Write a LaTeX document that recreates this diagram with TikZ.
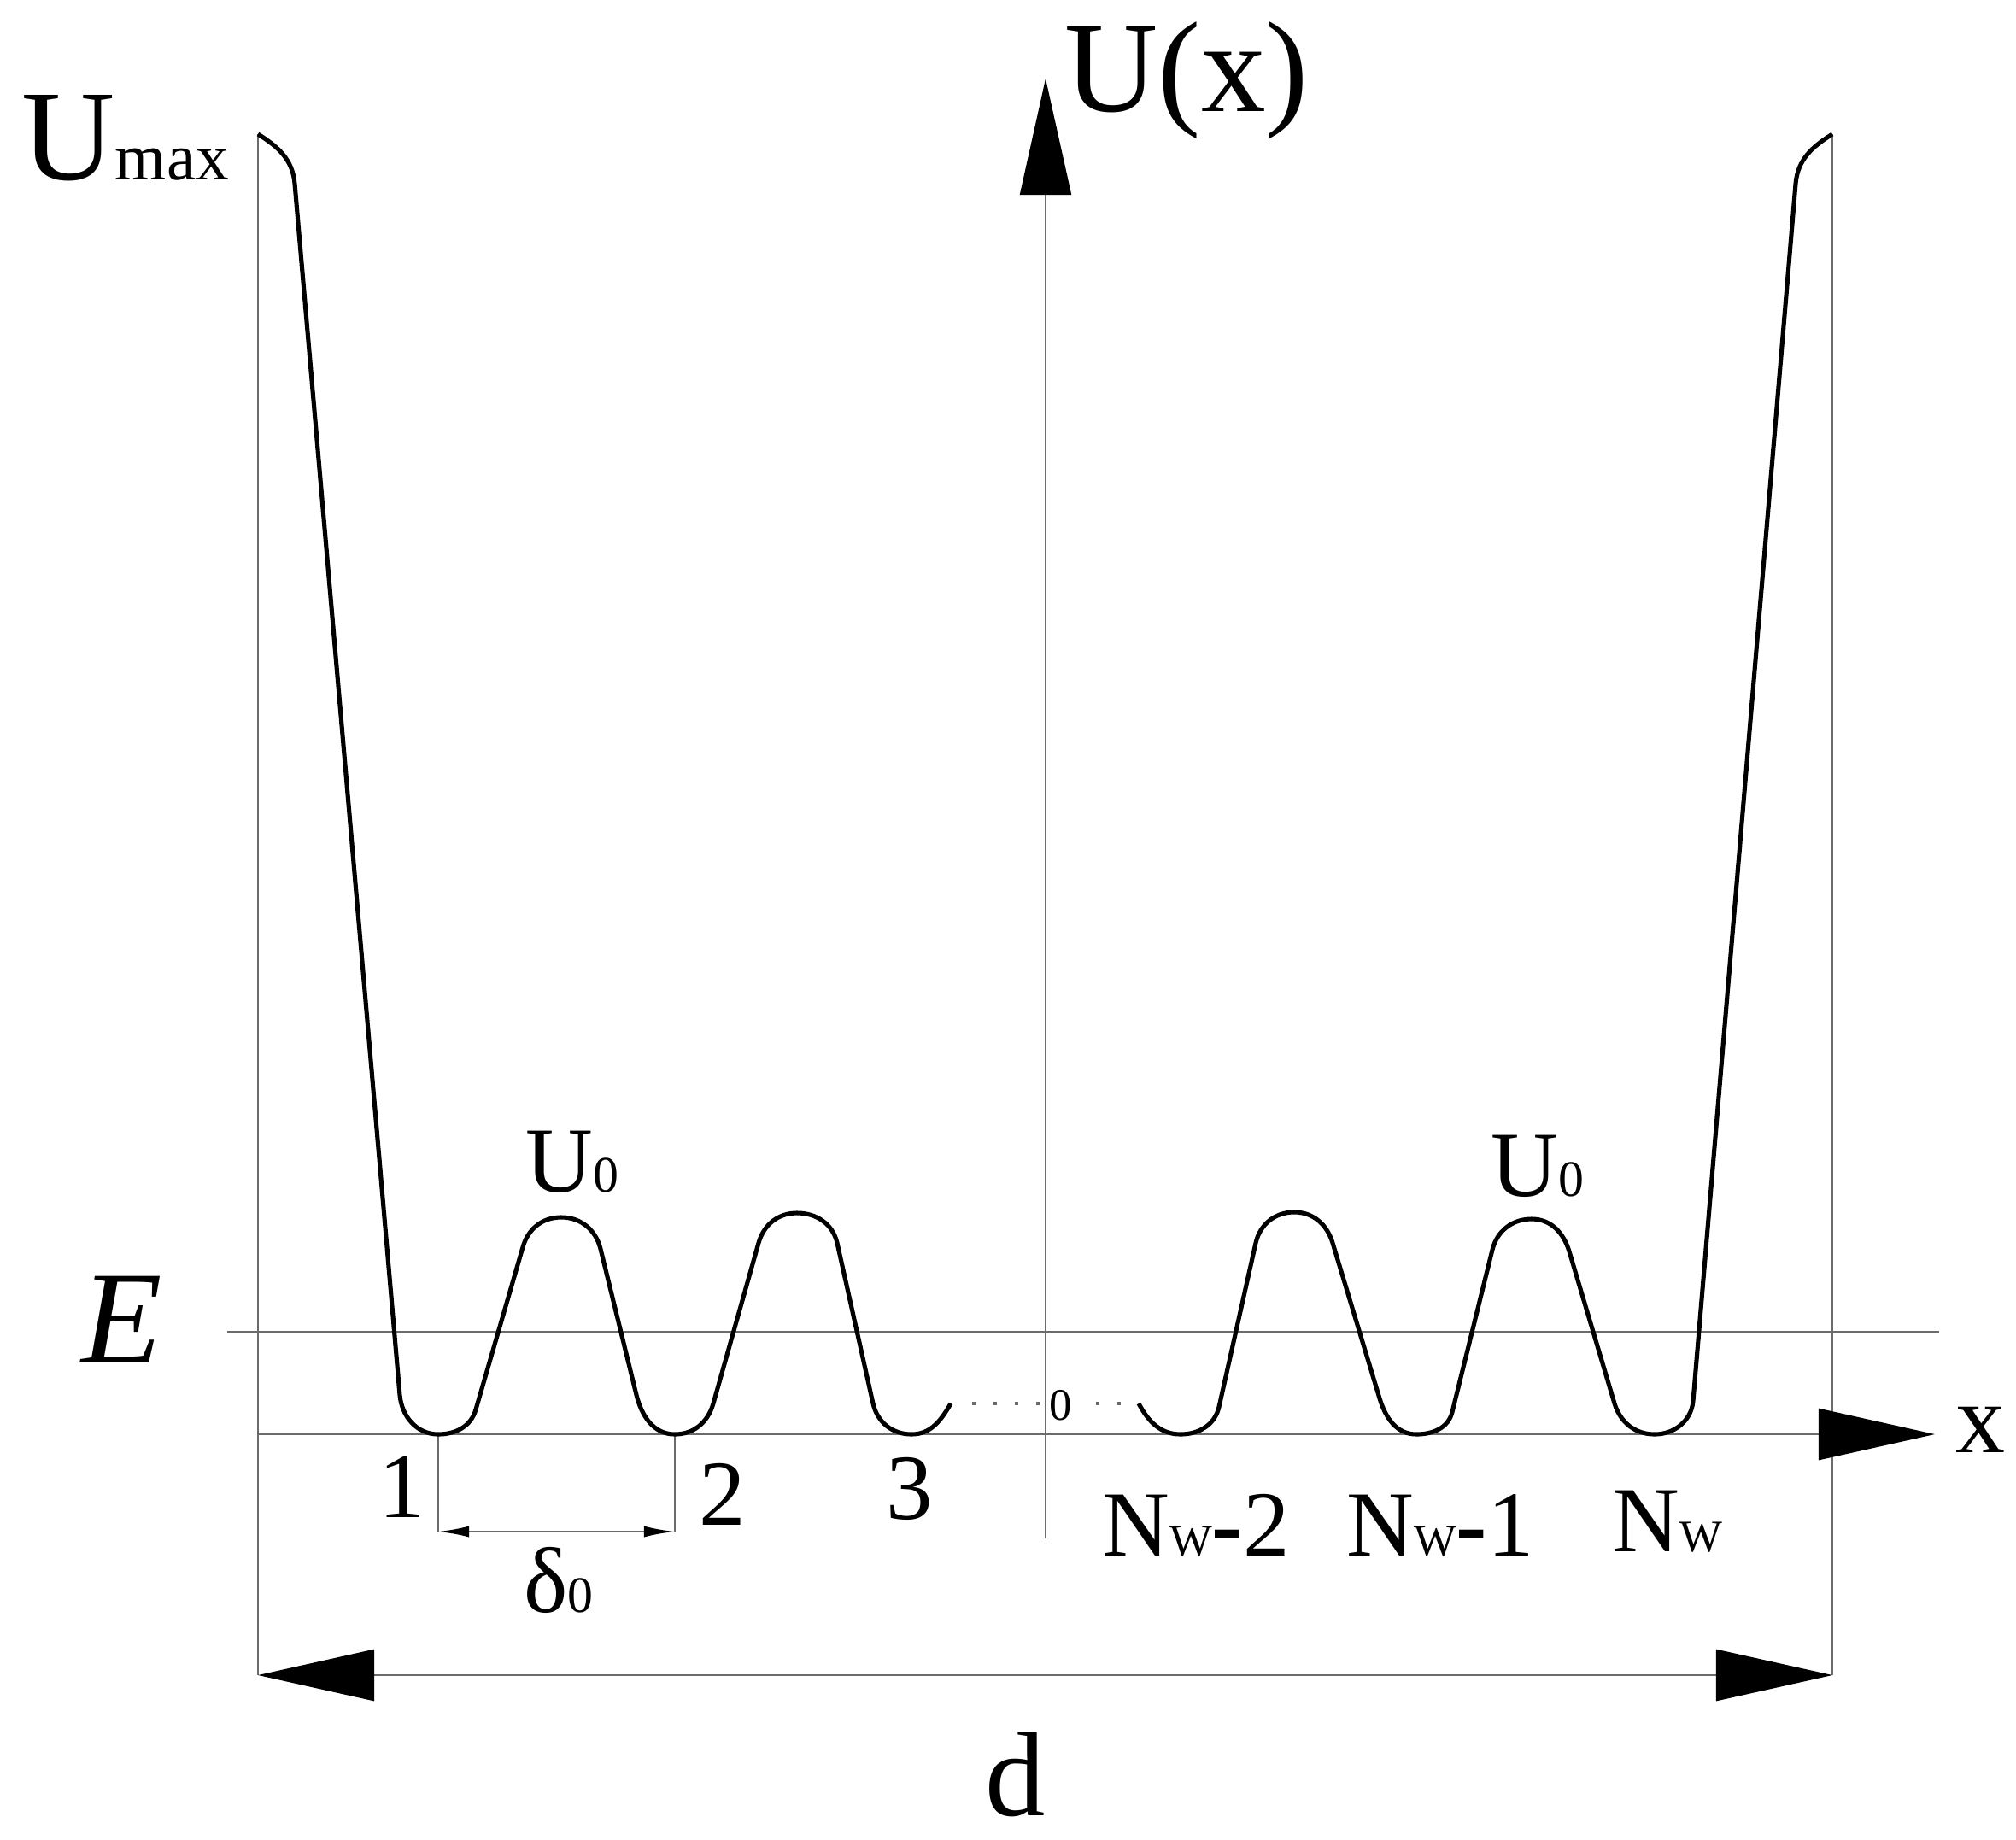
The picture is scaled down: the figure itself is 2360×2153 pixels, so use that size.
\documentclass[tikz,border=0pt]{standalone}
\usepackage{fontspec}
\setmainfont{Liberation Serif}
\usepackage{tikz}
\usetikzlibrary{arrows.meta}
\colorlet{guidecolor}{black!58}
\newcommand\fs[1]{\fontsize{#1}{#1}\selectfont}
\newcommand\lo[2][17]{{\fs{#1}#2}}
\tikzstyle{guide}=[line width=.75pt,guidecolor]
\tikzstyle{pot}=[line width=1.45pt,black,line join=round]
\tikzstyle{axhead}=[>/.tip={Triangle[length=1.36cm,width=.6cm,color=black]}]
\tikzstyle{axis}=[guide,axhead,->]
\tikzstyle{dim}=[guide,axhead,<->]
\tikzstyle{dimsmall}=[guide,>/.tip={Latex[length=.36cm,width=.13cm,color=black]},<->]
\tikzstyle{dots}=[guidecolor,line width=1.1pt,dash pattern=on 1.1pt off 6pt]
\tikzstyle{lab}=[inner sep=0pt,font=\fs{31}]
\tikzstyle{biglab}=[inner sep=0pt,font=\fs{43}]

\begin{document}
\begin{tikzpicture}[x=.01cm,y=.01cm]
	\useasboundingbox (0,0) rectangle (2360,-2153);
	\coordinate (O)    at (1224,-1679);
	\coordinate (xtip) at (2265,-1679);
	\coordinate (ytip) at (1224,-92);
	\coordinate (ybot) at (1224,-1801);
	\coordinate (LT) at (302,-157);  \coordinate (LB) at (302,-1961);
	\coordinate (RT) at (2145,-157); \coordinate (RB) at (2145,-1961);
	\coordinate (EL) at (266,-1559); \coordinate (ER) at (2270,-1559);
	\coordinate (m1) at (513,-1679); \coordinate (m2) at (790,-1679);

	\draw[guide] (LT) -- (LB);
	\draw[guide] (RT) -- (RB);
	\draw[guide] (EL) -- (ER);
	\draw[axis] (LB |- O) -- (xtip);
	\draw[axis,line width=.6pt] (ybot) -- (ytip);
	\draw[dim] (LB) -- (RB);
	\draw[guide] (m1) -- ++(0,-114) coordinate (m1b);
	\draw[guide] (m2) -- ++(0,-114) coordinate (m2b);
	\draw[dimsmall] (m1b) -- (m2b);
	\draw[dots] (1138,-1643) -- (1222,-1643);
	\draw[dots] (1283,-1643) -- (1312,-1643);

	% left wall and wells 1..3
	\draw[pot] (LT) to[out=-32,in=95] (345,-215)
	  -- (468,-1633) to[out=-85,in=180] (m1) to[out=0,in=-106] (557,-1650)
	  -- (612,-1460) to[out=74,in=180] (657,-1425) to[out=0,in=104] (703,-1462)
	  -- (745,-1633) to[out=-76,in=180] (m2) to[out=0,in=-106] (835,-1643)
	  -- (888,-1455) to[out=74,in=180] (933,-1420) to[out=0,in=103] (980,-1455)
	  -- (1022,-1643) to[out=-77,in=180] (1067,-1679) to[out=0,in=-120] (1113,-1643);
	% wells N_w-2..N_w and right wall
	\draw[pot] (1333,-1643) to[out=-62,in=180] (1382,-1679) to[out=0,in=-103] (1427,-1647)
	  -- (1470,-1455) to[out=77,in=180] (1515,-1419) to[out=0,in=107] (1560,-1455)
	  -- (1615,-1637) to[out=-73,in=180] (1658,-1679) to[out=0,in=-104] (1700,-1653)
	  -- (1747,-1463) to[out=76,in=180] (1793,-1427) to[out=0,in=107] (1837,-1465)
	  -- (1890,-1643) to[out=-73,in=180] (1937,-1679) to[out=0,in=-95] (1982,-1640)
	  -- (2102,-215) to[out=85,in=-148] (RT);

	\node[biglab,anchor=base west] (umax) at (25,-210) {U\lo[22]{max}};
	\node[biglab,anchor=base west] (ux) at (1246,-130) {U(x)};
	\node[biglab,anchor=base,font=\fs{44}\itshape] (E) at (143,-1595) {E};
	\node[lab,anchor=base,font=\fs{33}] (xlab) at (2318,-1700) {x};
	\node[inner sep=0pt,font=\fs{15}] (zero) at (1242,-1645) {0};
	\node[lab,anchor=base] (u0l) at (670,-1395) {U\lo{0}};
	\node[lab,anchor=base] (u0r) at (1800,-1400) {U\lo{0}};
	\node[lab,anchor=base] (w1) at (471,-1776) {1};
	\node[lab,anchor=base] (w2) at (846,-1785) {2};
	\node[lab,anchor=base] (w3) at (1065,-1778) {3};
	\node[lab,anchor=base] (wn2) at (1400,-1821) {N\lo[15]{W}{\bfseries-}2};
	\node[lab,anchor=base] (wn1) at (1686,-1821) {N\lo[15]{W}{\bfseries-}1};
	\node[lab,anchor=base] (wn) at (1952,-1816) {N\lo[15]{W}};
	\node[lab,anchor=base] (delta) at (654,-1887) {δ\lo{0}};
	\node[lab,anchor=base,font=\fs{40}] (dlab) at (1189,-2125) {d};
\end{tikzpicture}
\end{document}
